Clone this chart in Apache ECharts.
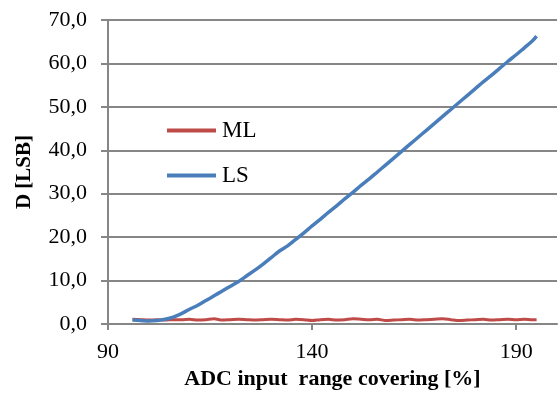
<!DOCTYPE html>
<html>
<head>
<meta charset="utf-8">
<script src="https://cdn.jsdelivr.net/npm/echarts@6/dist/echarts.min.js"></script>
<style>
  html, body { margin: 0; padding: 0; background: #fff; }
  #chart { width: 559px; height: 396px; }
</style>
</head>
<body>
<div id="chart"></div>
<script>
// ADC input range covering [%]
const xValues = [96, 98, 100, 102, 104, 106, 108, 110, 112, 114, 116, 118, 120, 122, 124, 126, 128, 130, 132, 134,
  136, 138, 140, 142, 144, 146, 148, 150, 152, 154, 156, 158, 160, 162, 164, 166, 168, 170, 172, 174,
  176, 178, 180, 182, 184, 186, 188, 190, 192, 194, 195]
const mlValues = [1.1, 1.0, 0.9, 1.0, 0.9, 1.0, 1.0, 1.1, 0.9, 1.0, 1.2, 0.9, 1.0, 1.1, 1.0, 0.9, 1.0, 1.1, 1.0, 0.9,
  1.1, 1.0, 0.8, 1.0, 1.1, 0.9, 1.0, 1.2, 1.1, 1.0, 1.1, 0.8, 0.9, 1.0, 1.1, 0.9, 1.0, 1.1, 1.2, 1.0,
  0.8, 0.9, 1.0, 1.1, 0.9, 1.0, 1.1, 1.0, 1.1, 1.0, 1.0]
const lsValues = [0.9, 0.8, 0.7, 0.8, 1.1, 1.6, 2.4, 3.4, 4.3, 5.4, 6.5, 7.6, 8.7, 9.8, 11.1, 12.4, 13.8, 15.3, 16.8, 18.0,
  19.5, 21.0, 22.6, 24.1, 25.7, 27.2, 28.8, 30.3, 31.9, 33.4, 35.0, 36.6, 38.2, 39.8, 41.4, 43.0, 44.6, 46.2, 47.8, 49.4,
  51.0, 52.6, 54.2, 55.8, 57.3, 58.9, 60.5, 62.0, 63.6, 65.2, 66.3]
const xTickValues = [90, 140, 190]

const pairs = vals => xValues.map((x, i) => [x, vals[i]])
const font = 'Liberation Serif'
const axisGrey = '#868686'

const chart = echarts.init(document.getElementById('chart'))
chart.setOption({
  animation: false,
  backgroundColor: '#fff',
  grid: {left: 108, top: 20, right: 2, bottom: 72, containLabel: false},
  legend: {
    orient: 'vertical',
    left: 162,
    top: 114,
    itemWidth: 49,
    itemHeight: 4,
    itemGap: 22,
    icon: 'rect',
    textStyle: {fontFamily: font, fontSize: 23, color: '#000', lineHeight: 23, padding: [0, 0, 0, 1]},
    data: ['ML', 'LS']
  },
  xAxis: {
    type: 'value',
    min: 90,
    max: 200,
    name: 'ADC input  range covering [%]',
    nameLocation: 'middle',
    nameGap: 36,
    nameTextStyle: {fontFamily: font, fontSize: 22, fontWeight: 'bold', color: '#000'},
    axisLine: {show: true, lineStyle: {color: axisGrey, width: 2}},
    axisTick: {show: true, length: 6, lineStyle: {color: axisGrey, width: 2}, customValues: xTickValues},
    axisLabel: {
      fontFamily: font, fontSize: 22, color: '#000', margin: 17,
      customValues: xTickValues
    },
    splitLine: {show: false}
  },
  yAxis: {
    type: 'value',
    min: 0,
    max: 70,
    interval: 10,
    name: 'D [LSB]',
    nameLocation: 'middle',
    nameGap: 73,
    nameRotate: 90,
    nameTextStyle: {fontFamily: font, fontSize: 21, fontWeight: 'bold', color: '#000'},
    axisLine: {show: true, lineStyle: {color: axisGrey, width: 2}},
    axisTick: {show: true, length: 7, lineStyle: {color: axisGrey, width: 2}},
    axisLabel: {
      fontFamily: font, fontSize: 22, color: '#000', margin: 21,
      formatter: v => v.toFixed(1).replace('.', ',')
    },
    splitLine: {show: true, lineStyle: {color: axisGrey, width: 2}}
  },
  series: [
    {
      name: 'ML',
      type: 'line',
      data: pairs(mlValues),
      showSymbol: false,
      smooth: 0.3,
      color: '#be4b48',
      lineStyle: {width: 3, color: '#be4b48'}
    },
    {
      name: 'LS',
      type: 'line',
      data: pairs(lsValues),
      showSymbol: false,
      smooth: 0.3,
      color: '#4a7ebb',
      lineStyle: {width: 3.5, color: '#4a7ebb'}
    }
  ]
})
</script>
</body>
</html>
